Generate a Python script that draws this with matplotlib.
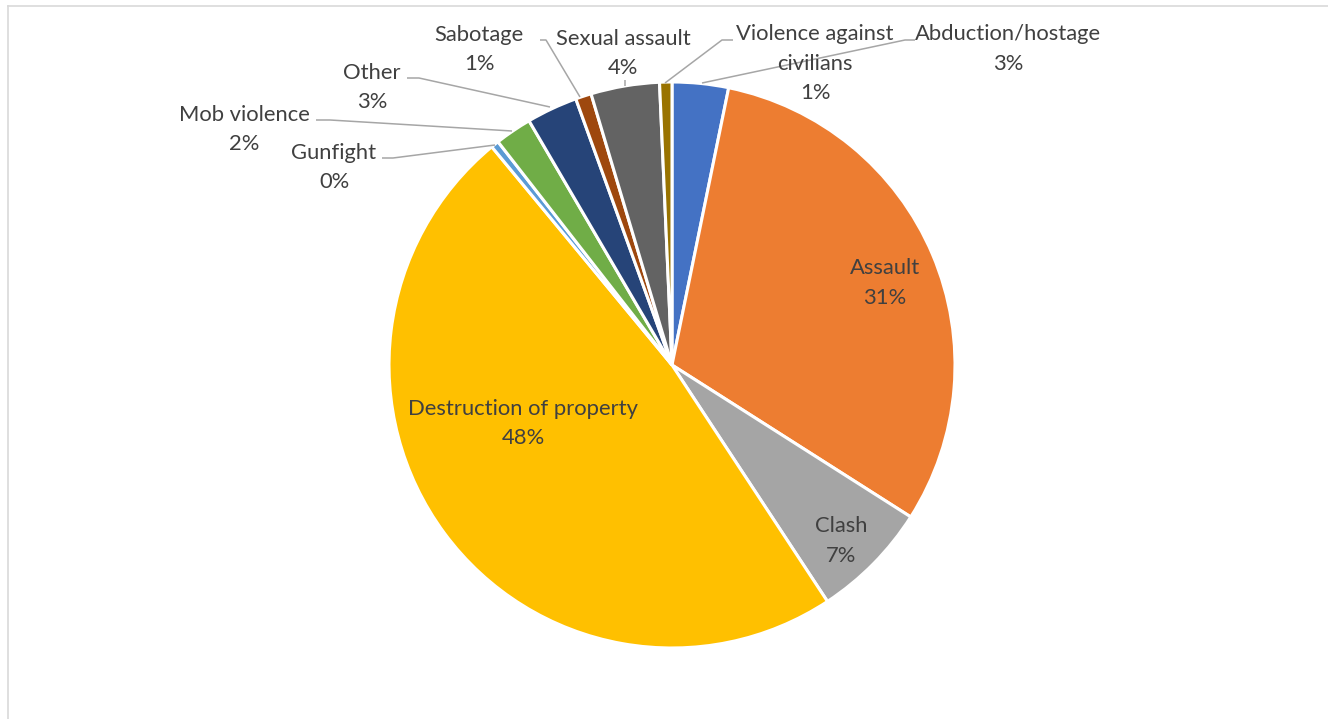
import matplotlib.pyplot as plt
from matplotlib.lines import Line2D

# share of events by type, clockwise from 12 o'clock
categories = ['Abduction/hostage', 'Assault', 'Clash', 'Destruction of property',
              'Gunfight', 'Mob violence', 'Other', 'Sabotage', 'Sexual assault',
              'Violence against civilians']
shares = [3.2, 30.7, 6.7, 48.1, 0.45, 2.1, 2.9, 0.9, 3.9, 0.7]
colors = ['#4472C4', '#ED7D31', '#A5A5A5', '#FFC000', '#5B9BD5',
          '#70AD47', '#264478', '#9E480E', '#636363', '#997300']

W, H = 1328, 719
fig = plt.figure(figsize=(W / 100, H / 100), dpi=100)
ax = fig.add_axes([0, 0, 1, 1])

def py(y):
    # pixel row -> data y
    return H - y

cx, cy, r = 672, py(365), 283
ax.pie(shares, colors=colors, startangle=90, counterclock=False,
       center=(cx, cy), radius=r, frame=True,
       wedgeprops=dict(edgecolor='white', linewidth=2.2))
ax.set_xlim(0, W)
ax.set_ylim(0, H)
ax.axis('off')

total = sum(shares)
pct = ['%d%%' % round(v / total * 100) for v in shares]

# label centre (x, y of first line) and wrapped names
label_pos = {
    'Abduction/hostage': (1008, 34),
    'Assault': (885, 268),
    'Clash': (841, 526),
    'Destruction of property': (523, 409),
    'Gunfight': (334, 153),
    'Mob violence': (244, 115),
    'Other': (372, 73),
    'Sabotage': (479, 35),
    'Sexual assault': (623, 39),
    'Violence against civilians': (815, 34),
}
wrapped = {'Violence against civilians': ['Violence against', 'civilians']}
step = 29.5

for name, p in zip(categories, pct):
    x, y = label_pos[name]
    lines = wrapped.get(name, [name]) + [p]
    for i, s in enumerate(lines):
        ax.text(x, py(y + i * step), s, ha='center', va='center', fontsize=15.8,
                family='Lato', color='#404040')

# leader lines (pixel coordinates)
leaders = [
    [(702, 83), (905, 40), (915, 40)],
    [(665, 83), (722, 40), (733, 40)],
    [(625, 80), (625, 86)],
    [(580, 97), (546, 40), (540, 40)],
    [(550, 107), (419, 78), (407, 78)],
    [(512, 131), (330, 120), (316, 120)],
    [(495, 145), (393, 158), (382, 158)],
]
for pts in leaders:
    xs = [p[0] for p in pts]
    ys = [py(p[1]) for p in pts]
    ax.plot(xs, ys, color='#A6A6A6', linewidth=1.1, solid_capstyle='butt')

# chart area border
fig.add_artist(Line2D([7.5 / W, 7.5 / W], [0, 1 - 6 / H], transform=fig.transFigure,
                      color='#D9D9D9', linewidth=1.2))
fig.add_artist(Line2D([7.5 / W, 1], [1 - 6 / H, 1 - 6 / H], transform=fig.transFigure,
                      color='#D9D9D9', linewidth=1.2))

fig.savefig('out.png', dpi=100, facecolor='white')
